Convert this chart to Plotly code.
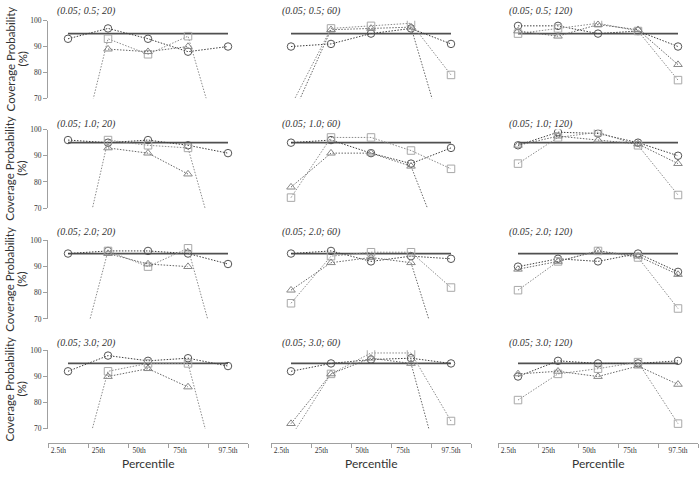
import plotly.graph_objects as go

W, H = 699, 478

percentiles = ["2.5th", "25th", "50th", "75th", "97.5th"]
panel_titles = [
    "(0.05; 0.5; 20)", "(0.05; 0.5; 60)", "(0.05; 0.5; 120)",
    "(0.05; 1.0; 20)", "(0.05; 1.0; 60)", "(0.05; 1.0; 120)",
    "(0.05; 2.0; 20)", "(0.05; 2.0; 60)", "(0.05; 2.0; 120)",
    "(0.05; 3.0; 20)", "(0.05; 3.0; 60)", "(0.05; 3.0; 120)",
]
target_level = 95

# coverage probabilities (%) per panel; values below 70 lie off the plotted range
circles = [
    [93, 97, 93, 88, 90], [90, 91, 95, 97, 91], [98, 98, 95, 96, 90],
    [96, 95, 96, 94, 91], [95, 96, 91, 87, 93], [94, 99, 98.5, 95, 90],
    [95, 96, 96, 95, 91], [95, 96, 92, 94, 93], [90, 93, 92, 95, 88],
    [92, 98, 96, 97, 94], [92, 95, 96.5, 97, 95], [90, 96, 95, 95, 96],
]
squares = [
    [30, 93, 87, 94, 41], [67, 97, 98, 99, 79], [95, 97, 99, 96, 77],
    [29, 96, 94, 93, 39], [74, 97, 97, 92, 85], [87, 97, 99, 94, 75],
    [38, 96, 90, 97, 42], [76, 94, 95.5, 95.5, 82], [81, 92, 96, 93.5, 74],
    [36, 92, 95, 95, 37], [67, 91, 99, 99, 73], [81, 91, 93, 95.5, 72],
]
triangles = [
    [None, 89, 88, 90, None], [62, 96.5, 97, 97.5, 45], [96, 94, 98.5, 96.5, 83],
    [None, 93, 91, 83, None], [78, 91, 91, 86, 47], [94, 97.5, 96, 94.5, 87],
    [None, 95, 91, 90, None], [81, 91.5, 93.5, 91.5, 43], [89, 92, 96, 94, 87],
    [None, 90, 93, 86, None], [72, 91, 97, 95, 39], [91, 92, 90, 94, 87],
]

# layout in page pixels
col_px = [(48, 248), (271, 471), (498, 698)]
row_px = [(17, 96), (128, 208), (241, 321), (353, 433)]
title_y_px = [7, 122, 232, 346]
title_x_px = [55, 280, 507]
xaxis_line_px = 447
xtitle_y_px = 468
# tick label placement relative to category centre (as in the original figure)
label_shift = [-0.24, -0.24, -0.22, -0.2, 0.0]

def fx(p):
    return p / W

def fy(p):
    return 1 - p / H

SERIF = "Liberation Serif, Times New Roman, serif"
SANS = "Lato, Open Sans, sans-serif"

fig = go.Figure()
layout = {}
annotations = []

styles = [
    (circles, "circle-open", "#555555", "#3f3f3f"),
    (squares, "square-open", "#a8a8a8", "#8a8a8a"),
    (triangles, "triangle-up-open", "#888888", "#666666"),
]

xpos = list(range(len(percentiles)))

for i in range(12):
    r, c = divmod(i, 3)
    sfx = "" if i == 0 else str(i + 1)
    xref, yref = "x" + sfx, "y" + sfx

    fig.add_trace(go.Scatter(
        x=xpos, y=[target_level] * len(percentiles), xaxis=xref, yaxis=yref,
        mode="lines", line=dict(color="#505050", width=1.8), showlegend=False,
        hoverinfo="skip"))
    for data, sym, mcol, lcol in styles:
        fig.add_trace(go.Scatter(
            x=xpos, y=data[i], xaxis=xref, yaxis=yref,
            mode="lines+markers",
            line=dict(color=lcol, width=1, dash="1.5px,1.5px"),
            marker=dict(symbol=sym, size=7.5, color=mcol, line=dict(width=1, color=mcol)),
            connectgaps=False, showlegend=False, cliponaxis=True))

    x0, x1 = col_px[c]
    y0, y1 = row_px[r]
    xa = dict(domain=[fx(x0), fx(x1)], range=[-0.5, len(percentiles) - 0.5],
              showgrid=False, zeroline=False, fixedrange=True)
    if r == 3:
        xa.update(visible=True, anchor="free", position=fy(xaxis_line_px),
                  showline=True, linecolor="#a0a0a0", linewidth=1,
                  tickmode="array",
                  tickvals=[k + s for k, s in zip(xpos, label_shift)],
                  ticktext=percentiles, ticks="",
                  minor=dict(tickmode="array",
                             tickvals=[k - 0.5 for k in range(len(percentiles) + 1)],
                             ticks="outside", ticklen=4, tickcolor="#a0a0a0", showgrid=False),
                  tickfont=dict(family=SERIF, size=7.5, color="#333333"))
    else:
        xa.update(visible=False, anchor=yref)
    ya = dict(domain=[fy(y1), fy(y0)], range=[70, 100], showgrid=False, zeroline=False,
              anchor=xref, fixedrange=True)
    if c == 0:
        ya.update(visible=True, showline=True, linecolor="#a0a0a0", linewidth=1,
                  tickvals=[70, 80, 90, 100], ticks="outside", ticklen=4,
                  tickcolor="#a0a0a0",
                  tickfont=dict(family=SERIF, size=7.5, color="#333333"))
    else:
        ya.update(visible=False)
    layout["xaxis" + sfx] = xa
    layout["yaxis" + sfx] = ya

    annotations.append(dict(
        text="<i>" + panel_titles[i] + "</i>", xref="paper", yref="paper",
        x=fx(title_x_px[c]), y=fy(title_y_px[r]), xanchor="left", yanchor="middle",
        showarrow=False, font=dict(family=SERIF, size=10, color="#333333")))

for r in range(4):
    y0, y1 = row_px[r]
    for txt, xp in (("Coverage Probability", 10), ("(%)", 22)):
        annotations.append(dict(
            text=txt, xref="paper", yref="paper",
            x=fx(xp), y=fy((y0 + y1) / 2), xanchor="center", yanchor="middle",
            textangle=-90, showarrow=False,
            font=dict(family=SANS, size=11.5, color="#333333")))

for c in range(3):
    x0, x1 = col_px[c]
    annotations.append(dict(
        text="Percentile", xref="paper", yref="paper",
        x=fx((x0 + x1) / 2), y=fy(xtitle_y_px), xanchor="center", yanchor="middle",
        showarrow=False, font=dict(family=SANS, size=12, color="#333333")))

fig.update_layout(
    width=W, height=H, margin=dict(l=0, r=0, t=0, b=0),
    paper_bgcolor="white", plot_bgcolor="white",
    annotations=annotations, showlegend=False, **layout)

# remove the browser's default page margin so the figure sits at the window corner
fig.write_html("out.html", config={"displayModeBar": False, "staticPlot": True},
               post_script="document.body.style.margin='0px';")
